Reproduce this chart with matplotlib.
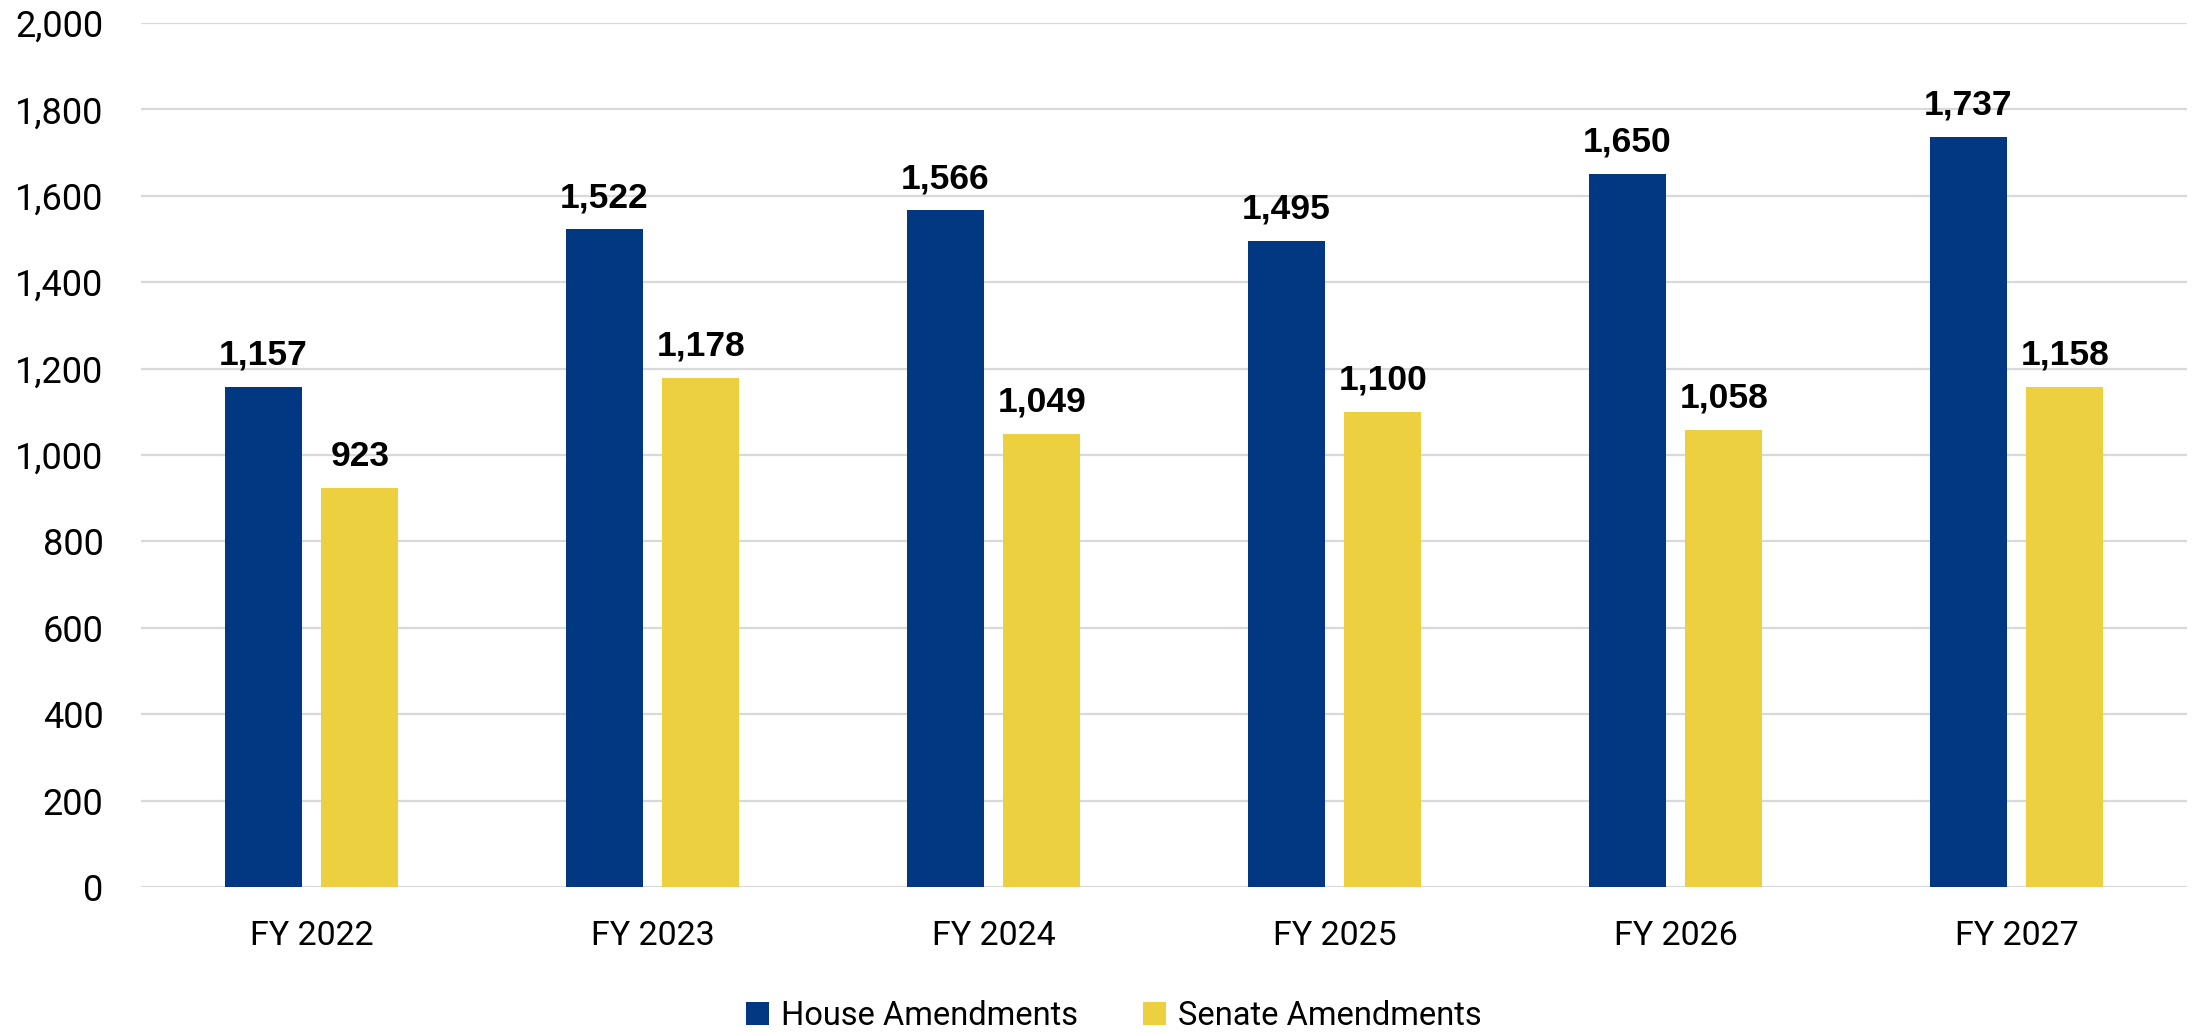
import numpy as np
import matplotlib
matplotlib.use('agg')
import matplotlib.pyplot as plt
from matplotlib.ticker import FuncFormatter

# values
years = ['FY 2022', 'FY 2023', 'FY 2024', 'FY 2025', 'FY 2026', 'FY 2027']
house = [1157, 1522, 1566, 1495, 1650, 1737]
senate = [923, 1178, 1049, 1100, 1058, 1158]

HOUSE_COL = '#023881'
SENATE_COL = '#ECD03F'
GRID_COL = '#D9D9D9'

plt.rcParams['font.family'] = ['Roboto', 'DejaVu Sans']

fig = plt.figure(figsize=(21.93, 10.32), dpi=100)
ax = fig.add_axes([141 / 2193, 1 - 887 / 1032, (2187 - 141) / 2193, (887 - 23) / 1032])

x = np.arange(len(years))
w = 0.226
off = 0.142
b1 = ax.bar(x - off, house, w, color=HOUSE_COL, label='House Amendments', zorder=3)
b2 = ax.bar(x + off, senate, w, color=SENATE_COL, label='Senate Amendments', zorder=3)

# bold value labels above each bar
for bars in (b1, b2):
    for r in bars:
        h = r.get_height()
        ax.annotate(f'{h:,.0f}', (r.get_x() + r.get_width() / 2, h),
                    xytext=(0, 16), textcoords='offset points',
                    ha='center', va='baseline', fontsize=25.5, fontweight='bold',
                    family=['Liberation Sans', 'DejaVu Sans'], color='black')

ax.set_xlim(-0.5, len(years) - 0.5)
ax.set_ylim(0, 2000)
ax.set_yticks(np.arange(0, 2001, 200))
ax.yaxis.set_major_formatter(FuncFormatter(lambda v, p: f'{v:,.0f}'))
ax.set_xticks(x)
ax.set_xticklabels(years)

ax.grid(axis='y', color=GRID_COL, linewidth=1.6, zorder=0)
ax.set_axisbelow(True)
for s in ax.spines.values():
    s.set_visible(False)
ax.tick_params(axis='y', length=0, labelsize=26, pad=27)
ax.tick_params(axis='x', length=0, labelsize=24.5, pad=24)

fig.legend(loc='center', bbox_to_anchor=(1114 / 2193, 1 - 1016 / 1032), ncol=2,
           frameon=False, fontsize=23.5, handlelength=0.7, handleheight=0.7,
           handletextpad=0.36, columnspacing=2.0, borderpad=0)

fig.savefig('out.png', dpi=100)
plt.close(fig)
